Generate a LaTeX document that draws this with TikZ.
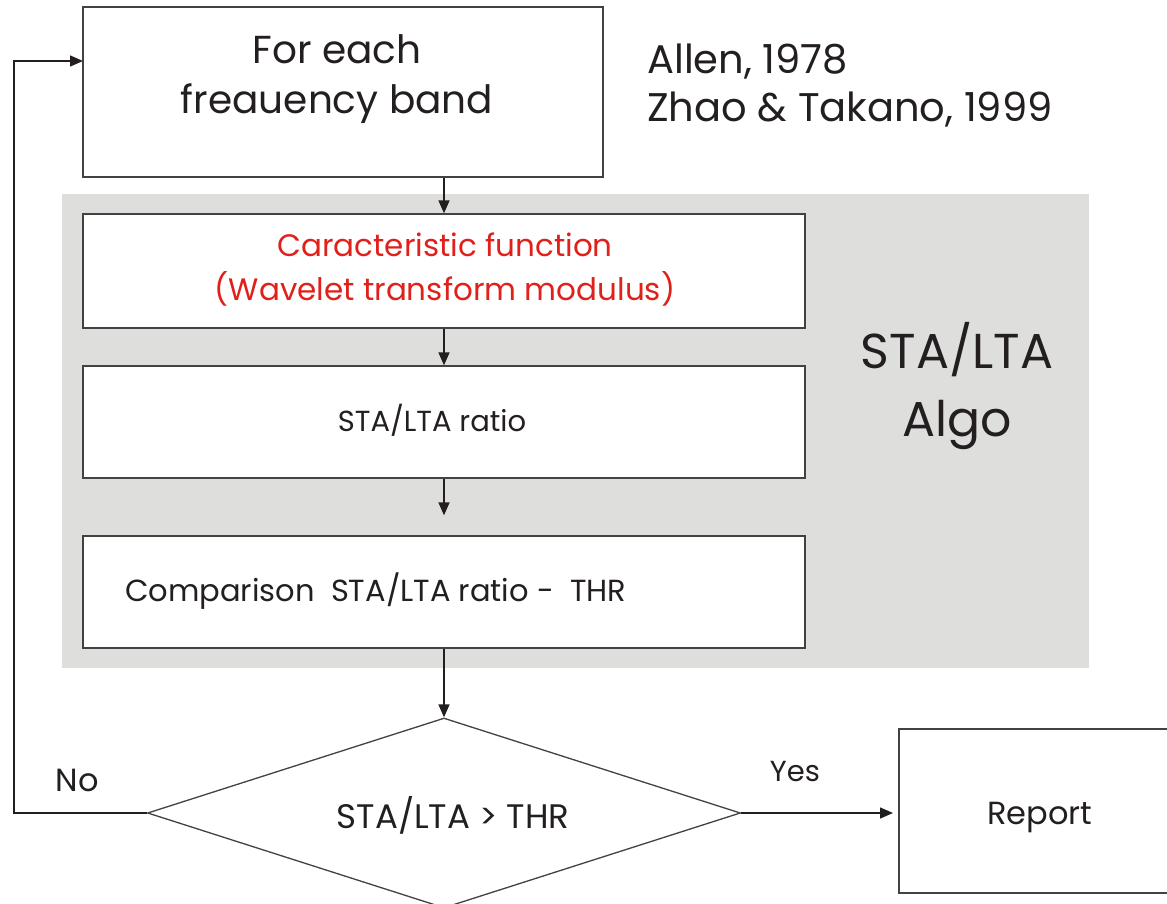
\documentclass[tikz,border=0pt]{standalone}
\usepackage{fontspec}
\setmainfont{Poppins}
\usetikzlibrary{calc}
\usetikzlibrary{arrows,arrows.meta}
\usetikzlibrary{shapes.geometric}
\usepackage{xcolor}
\definecolor{algogray}{RGB}{222,222,221}
\definecolor{ink}{RGB}{35,31,32}
\definecolor{cfred}{RGB}{224,32,27}
\tikzset{
  blk/.style={draw=ink!85, line width=1.3pt, fill=white, inner sep=0pt},
  flow/.style={-{Triangle[length=13pt,width=11pt]}, line width=1.5pt, draw=ink},
  txt/.style={text=ink, inner sep=0pt, align=center},
}
\begin{document}
\begin{tikzpicture}[x=1pt,y=-1pt]
\useasboundingbox (0,0) rectangle (1167,904);
\fill[algogray] (62,194) rectangle (1089,668);
\node[blk, minimum width=520pt, minimum height=170pt] (band) at (343,92) {};
\node[blk, minimum width=722pt, minimum height=114pt] (charf) at (444,271) {};
\node[blk, minimum width=722pt, minimum height=112pt] (ratio) at (444,422) {};
\node[blk, minimum width=722pt, minimum height=112pt] (comp) at (444,592) {};
\node[blk, diamond, minimum width=593pt, minimum height=190pt] (test) at (444,813) {};
\node[blk, minimum width=280pt, minimum height=164pt] (report) at (1039,811) {};
\coordinate (entry) at (83,61);
\coordinate (back) at (14,813);
\coordinate (stop) at (893,813);
% texts
\node[txt, font=\fontsize{39}{50}\selectfont] (bandtxt) at (337,79) {For each\\freauency band};
\node[txt, font=\fontsize{40}{48}\selectfont, anchor=west, align=left] (refs) at (647,86) {Allen, 1978\\Zhao \& Takano, 1999};
\node[txt, text=cfred, font=\fontsize{31}{44}\selectfont] (charftxt) at (445,270) {Caracteristic function\\(Wavelet transform modulus)};
\node[txt, font=\fontsize{29}{34}\selectfont] (ratiotxt) at (432,420) {STA/LTA ratio};
\node[txt, font=\fontsize{30.5}{34}\selectfont, anchor=west] (comptxt) at (125,591) {Comparison\ \ STA/LTA ratio -\ \ THR};
\node[txt, font=\fontsize{49}{68}\selectfont] (algo) at (957,386) {STA/LTA\\Algo};
\node[txt, font=\fontsize{34}{36}\selectfont] (testtxt) at (453,815) {STA/LTA \textgreater\ THR};
\node[txt, font=\fontsize{32}{36}\selectfont] (reporttxt) at (1040,818) {Report};
\node[txt, font=\fontsize{32}{34}\selectfont] (no) at (77,780) {No};
\node[txt, font=\fontsize{29}{34}\selectfont] (yes) at (795,772) {Yes};
% connectors
\draw[flow] (band.south -| charf.north) -- (charf.north);
\draw[flow] (charf.south) -- (ratio.north);
\draw[flow, shorten >=20pt] (ratio.south) -- (comp.north);
\draw[flow] (comp.south) -- (test.north);
\draw[flow] (test.east) -- (stop);
\draw[flow] (test.west) -- (back) |- (entry);
\end{tikzpicture}
\end{document}
